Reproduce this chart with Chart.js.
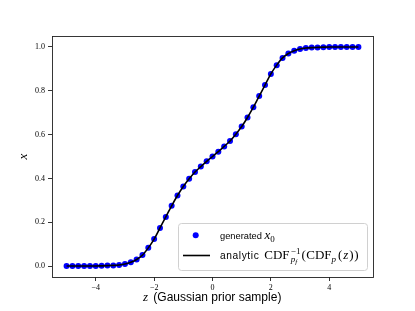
<!DOCTYPE html>
<html>
<head>
<meta charset="utf-8">
<script src="https://cdn.jsdelivr.net/npm/chart.js@4/dist/chart.umd.min.js"></script>
<style>
html,body{margin:0;padding:0;background:#fff;}
#wrap{width:415px;height:311px;}
</style>
</head>
<body>
<div id="wrap"><canvas id="c" width="415" height="311"></canvas></div>
<script>
const zValues = [-5.0,-4.8,-4.6,-4.4,-4.2,-4.0,-3.8,-3.6,-3.4,-3.2,-3.0,-2.8,-2.6,-2.4,-2.2,-2.0,-1.8,-1.6,-1.4,-1.2,-1.0,-0.8,-0.6,-0.4,-0.2,0.0,0.2,0.4,0.6,0.8,1.0,1.2,1.4,1.6,1.8,2.0,2.2,2.4,2.6,2.8,3.0,3.2,3.4,3.6,3.8,4.0,4.2,4.4,4.6,4.8,5.0];
const generatedX = [0.000,0.000,0.000,0.000,0.000,0.000,0.001,0.002,0.003,0.005,0.009,0.017,0.030,0.050,0.083,0.123,0.174,0.224,0.275,0.322,0.363,0.398,0.429,0.454,0.478,0.500,0.522,0.546,0.571,0.602,0.637,0.678,0.725,0.776,0.826,0.877,0.917,0.950,0.970,0.983,0.991,0.995,0.997,0.998,0.999,1.000,1.000,1.000,1.000,1.000,1.000];
const analyticX = [0.000,0.000,0.000,0.000,0.000,0.000,0.001,0.002,0.003,0.005,0.009,0.017,0.030,0.050,0.083,0.123,0.174,0.224,0.275,0.322,0.363,0.398,0.429,0.454,0.478,0.500,0.522,0.546,0.571,0.602,0.637,0.678,0.725,0.776,0.826,0.877,0.917,0.950,0.970,0.983,0.991,0.995,0.997,0.998,0.999,1.000,1.000,1.000,1.000,1.000,1.000];
const xTicks = [-4,-2,0,2,4];
const yTicks = [0.0,0.2,0.4,0.6,0.8,1.0];

const SERIF = '"Liberation Serif","DejaVu Serif",serif';
const SANS = '"Liberation Sans","DejaVu Sans",sans-serif';

function runs(ctx, x, y, parts){
  for(const p of parts){
    ctx.font = p.f;
    ctx.fillText(p.t, x, y + (p.dy||0));
    x += ctx.measureText(p.t).width + (p.gap||0);
  }
  return x;
}

const decor = {
  id:'decor',
  afterDraw(chart){
    const ctx = chart.ctx, a = chart.chartArea;
    ctx.save();
    // frame
    ctx.strokeStyle = '#222';
    ctx.lineWidth = 0.9;
    ctx.strokeRect(Math.round(a.left)+0.5, Math.round(a.top)+0.5, Math.round(a.right-a.left), Math.round(a.bottom-a.top));
    // legend box
    const lx=178.5, ly=223.5, lw=189, lh=47, r=3;
    ctx.beginPath();
    ctx.moveTo(lx+r,ly); ctx.lineTo(lx+lw-r,ly); ctx.arcTo(lx+lw,ly,lx+lw,ly+r,r);
    ctx.lineTo(lx+lw,ly+lh-r); ctx.arcTo(lx+lw,ly+lh,lx+lw-r,ly+lh,r);
    ctx.lineTo(lx+r,ly+lh); ctx.arcTo(lx,ly+lh,lx,ly+lh-r,r);
    ctx.lineTo(lx,ly+r); ctx.arcTo(lx,ly,lx+r,ly,r); ctx.closePath();
    ctx.fillStyle='rgba(255,255,255,0.8)'; ctx.fill();
    ctx.strokeStyle='#d0d0d0'; ctx.lineWidth=1; ctx.stroke();
    // legend markers
    ctx.fillStyle='#0000ff';
    ctx.beginPath(); ctx.arc(195.7,235.3,3,0,Math.PI*2); ctx.fill();
    ctx.strokeStyle='#000'; ctx.lineWidth=1.6;
    ctx.beginPath(); ctx.moveTo(183,255.5); ctx.lineTo(210,255.5); ctx.stroke();
    // legend texts
    ctx.fillStyle='#000';
    ctx.textBaseline='alphabetic'; ctx.textAlign='left';
    ctx.letterSpacing='0px';
    runs(ctx, 220, 239.3, [{t:'generated', f:'9.3px '+SANS}]);
    ctx.letterSpacing='0.6px';
    runs(ctx, 220, 259, [{t:'analytic', f:'10.2px '+SANS}]);
    ctx.letterSpacing='0px';
    runs(ctx, 264.5, 239.3, [
      {t:'x', f:'italic 13px '+SERIF},
      {t:'0', f:'9px '+SERIF, dy:2.5}
    ]);
    runs(ctx, 264.3, 259, [{t:'CDF', f:'13px '+SERIF}]);
    runs(ctx, 290.8, 259, [{t:'−1', f:'9px '+SERIF, dy:-5}]);
    runs(ctx, 290.8, 259, [
      {t:'p', f:'italic 9px '+SERIF, dy:3},
      {t:'f', f:'italic 7px '+SERIF, dy:4.5}
    ]);
    runs(ctx, 301.5, 259, [
      {t:'(', f:'13px '+SERIF, gap:0.4},
      {t:'CDF', f:'13px '+SERIF},
      {t:'p', f:'italic 9px '+SERIF, dy:3, gap:2},
      {t:'(', f:'13px '+SERIF, gap:0.8},
      {t:'z', f:'italic 13px '+SERIF, gap:1},
      {t:')', f:'13px '+SERIF, gap:0.6},
      {t:')', f:'13px '+SERIF}
    ]);
    // axis titles
    runs(ctx, 143, 301, [{t:'z', f:'italic 13px '+SERIF}]);
    runs(ctx, 150, 301, [{t:' (Gaussian prior sample)', f:'12px '+SANS}]);
    ctx.translate(27,(a.top+a.bottom)/2);
    ctx.rotate(-Math.PI/2);
    ctx.textAlign='center';
    ctx.font='italic 13px '+SERIF;
    ctx.fillText('x',0,0);
    ctx.restore();
  }
};

const fmtMinus = v => (v<0?'−':'')+Math.abs(v);

new Chart(document.getElementById('c'), {
  type:'scatter',
  data:{
    datasets:[
      {
        type:'line',
        label:'analytic',
        data: zValues.map((z,i)=>({x:z,y:analyticX[i]})),
        borderColor:'#000',
        borderWidth:1.6,
        pointRadius:0,
        fill:false,
        cubicInterpolationMode:'monotone',
        order:0
      },
      {
        label:'generated',
        data: zValues.map((z,i)=>({x:z,y:generatedX[i]})),
        backgroundColor:'#0000ff',
        borderColor:'#0000ff',
        pointRadius:3,
        pointBorderWidth:0,
        order:1
      }
    ]
  },
  options:{
    responsive:false,
    animation:false,
    layout:{padding:{left:0,right:42,top:36,bottom:0}},
    plugins:{legend:{display:false},tooltip:{enabled:false}},
    scales:{
      x:{
        type:'linear', min:-5.5, max:5.5,
        afterBuildTicks: s=>{ s.ticks = xTicks.map(v=>({value:v})); },
        afterFit: s=>{ s.height = 34; },
        border:{display:false},
        grid:{display:true, drawOnChartArea:false, drawTicks:true, tickLength:4, tickColor:'#000', tickWidth:0.8},
        ticks:{color:'#000', padding:2, font:{family:SERIF, size:8}, callback:v=>fmtMinus(v), maxRotation:0}
      },
      y:{
        type:'linear', min:-0.05, max:1.05,
        afterBuildTicks: s=>{ s.ticks = yTicks.map(v=>({value:v})); },
        afterFit: s=>{ s.width = 52; },
        border:{display:false},
        grid:{display:true, drawOnChartArea:false, drawTicks:true, tickLength:4, tickColor:'#000', tickWidth:0.8},
        ticks:{color:'#000', padding:3, font:{family:SERIF, size:8}, callback:v=>Number(v).toFixed(1)}
      }
    }
  },
  plugins:[decor]
});
</script>
</body>
</html>
